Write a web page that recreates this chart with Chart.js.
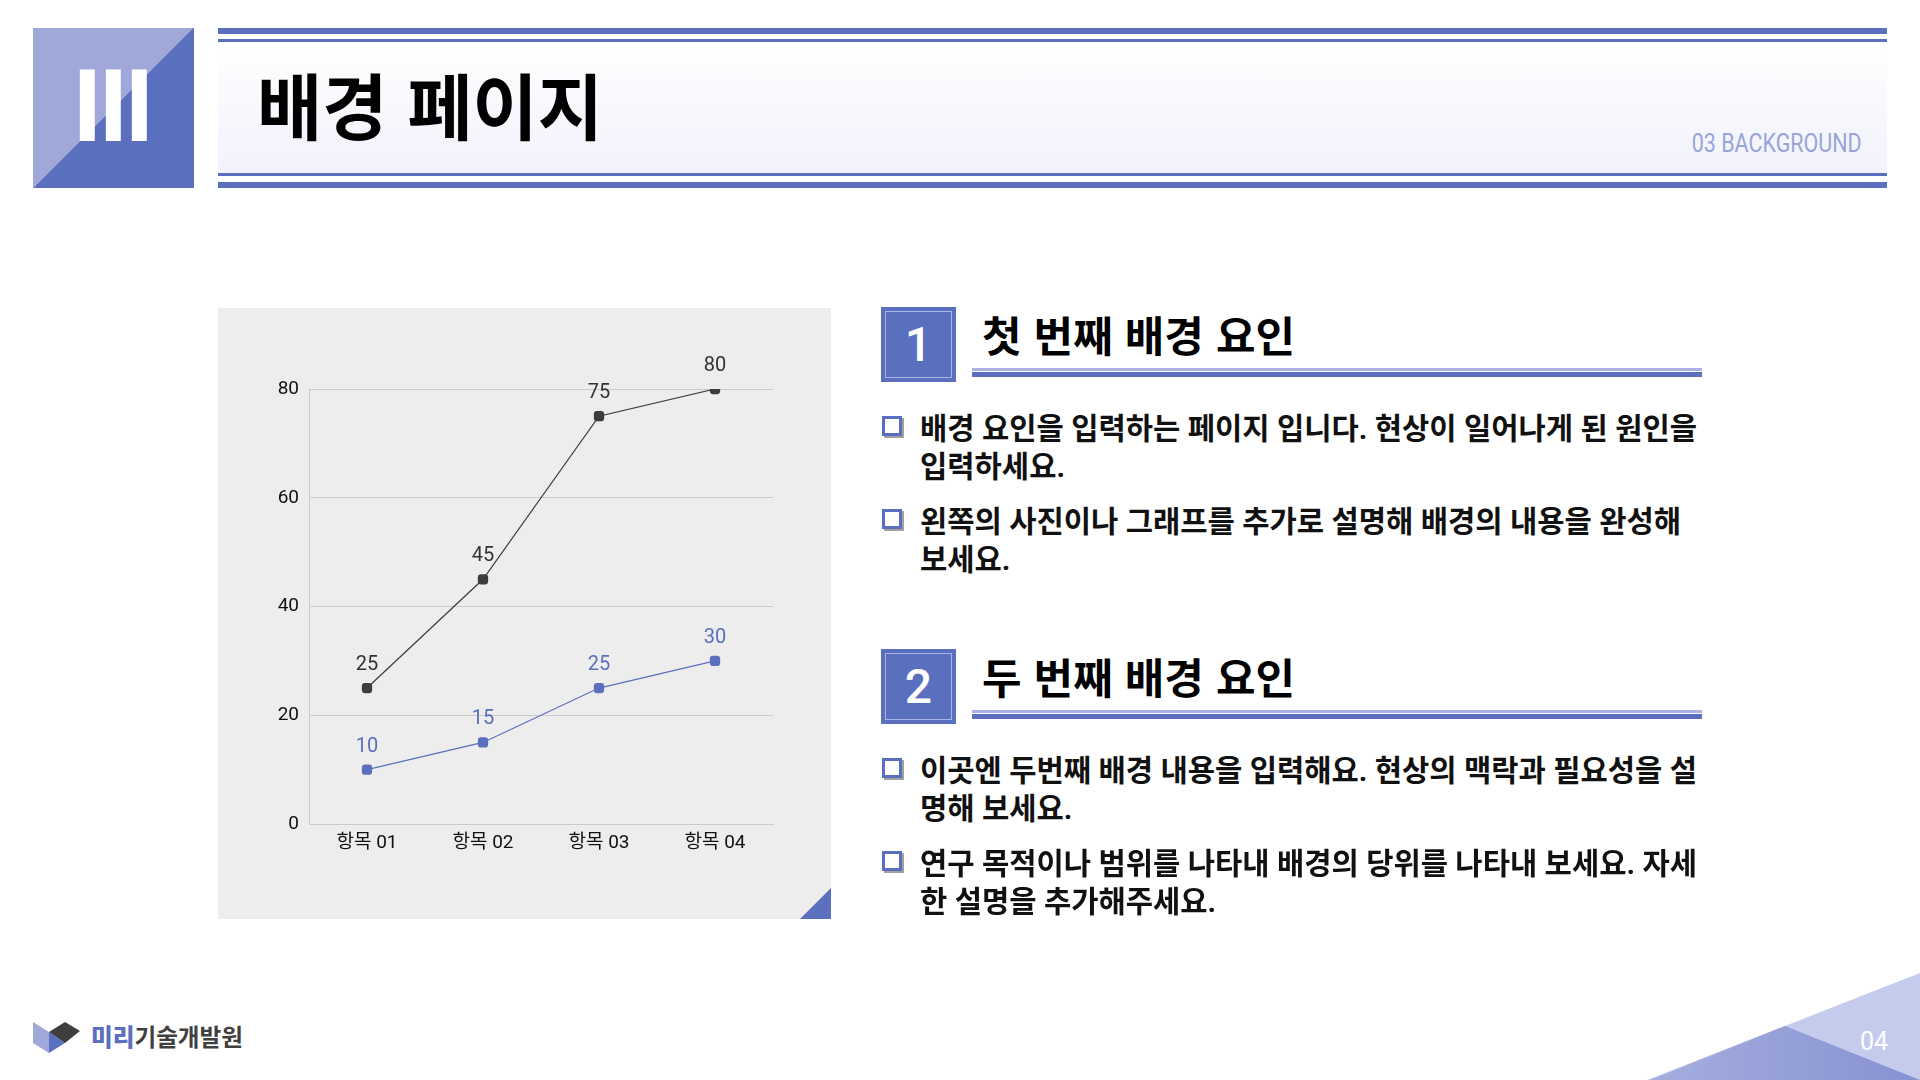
<!DOCTYPE html>
<html lang="ko">
<head>
<meta charset="utf-8">
<title>배경 페이지</title>
<script src="https://cdn.jsdelivr.net/npm/chart.js"></script>
<style>
  html, body { margin: 0; padding: 0; }
  body { width: 1920px; height: 1080px; position: relative; overflow: hidden; background: #fff;
         font-family: 'Noto Sans CJK KR', 'Noto Sans', sans-serif; color: #111; }
  .abs { position: absolute; }
  .nowrap { white-space: nowrap; transform-origin: 0 50%; }

  #numBox { left: 33px; top: 28px; width: 161px; height: 160px;
            background: linear-gradient(to bottom right, #9fa8d9 50%, #5b6fbf 50%); }
  #roman { left: 73px; top: 51px; font: bold 103px/110px 'Liberation Sans', Arial, sans-serif;
           color: #fff; letter-spacing: -2.6px; }

  .band { left: 218px; width: 1669px; background: #5b6fbf; }
  #bandFill { left: 218px; width: 1669px; top: 42px; height: 131px;
              background: linear-gradient(#ffffff, #f1f2fc); }
  #title { left: 257px; top: 63px; font-size: 72px; line-height: 80px; font-weight: 700; color: #000; }
  #sub { right: 58px; top: 129px; font: 25px/30px Roboto, sans-serif; color: #9aa4d8;
         white-space: nowrap; transform-origin: 100% 50%; }

  #panel { left: 218px; top: 308px; width: 613px; height: 611px; background: #ededed; }
  #panel .corner { position: absolute; right: 0; bottom: 0; width: 31px; height: 31px; background: #5b6fbf;
                   clip-path: polygon(100% 0, 100% 100%, 0 100%); }
  #chartWrap { position: absolute; left: 0; top: 0; width: 613px; height: 611px; }

  .secNum { width: 75px; height: 75px; background: #5b6fbf; left: 881px; color: #fff;
            font: 500 48px/75px Roboto, sans-serif; text-align: center; box-sizing: border-box; }
  .secNum::after { content: ''; position: absolute; left: 4px; top: 4px; right: 4px; bottom: 4px;
                   border: 1px solid #aab3e6; }
  .secHead { left: 982px; font-size: 42px; line-height: 50px; font-weight: 700; color: #000; }
  .rule1 { left: 972px; width: 730px; height: 3px; background: #aab1e4; }
  .rule2 { left: 972px; width: 730px; height: 5px; background: #5b6fbf; }
  .chk { left: 882px; width: 20px; height: 20px; box-sizing: border-box; border: 3px solid #5b6fbf;
         background: #fff; box-shadow: 2px 2px 0 #a0a0a0; }
  /* Roboto first keeps the line boxes inside the tight 38px leading; hangul falls back to Noto CJK */
  .para { left: 920px; font-family: Roboto, 'Noto Sans CJK KR', sans-serif;
          font-size: 30px; line-height: 38px; font-weight: 700; color: #111; }

  #logoText { left: 91px; top: 1021px; font-size: 24px; line-height: 30px; font-weight: 700; color: #404040; }
  #logoText b { color: #5b6fbf; }
  #pageNo { left: 1860px; top: 1027px; font: 25px/30px Roboto, sans-serif; color: #fff; }
</style>
</head>
<body>

<div id="numBox" class="abs"></div>
<div id="roman" class="abs">III</div>

<div class="abs band" style="top:28px;height:6px"></div>
<div class="abs band" style="top:39px;height:3px"></div>
<div id="bandFill" class="abs"></div>
<div class="abs band" style="top:173px;height:3px"></div>
<div class="abs band" style="top:182px;height:6px"></div>
<div id="title" class="abs nowrap">배경 페이지</div>
<div id="sub" class="abs">03 BACKGROUND</div>

<div id="panel" class="abs">
  <div id="chartWrap"><canvas id="lineChart" width="613" height="611"></canvas></div>
  <div class="corner"></div>
</div>

<div class="abs secNum" style="top:307px">1</div>
<div class="abs secHead nowrap" style="top:309px">첫 번째 배경 요인</div>
<div class="abs rule1" style="top:368px"></div>
<div class="abs rule2" style="top:372px"></div>
<div class="abs chk" style="top:416px"></div>
<div class="abs para nowrap" style="top:410px">배경 요인을 입력하는 페이지 입니다. 현상이 일어나게 된 원인을<br>입력하세요.</div>
<div class="abs chk" style="top:509px"></div>
<div class="abs para nowrap" style="top:503px">왼쪽의 사진이나 그래프를 추가로 설명해 배경의 내용을 완성해<br>보세요.</div>

<div class="abs secNum" style="top:649px">2</div>
<div class="abs secHead nowrap" style="top:651px">두 번째 배경 요인</div>
<div class="abs rule1" style="top:710px"></div>
<div class="abs rule2" style="top:714px"></div>
<div class="abs chk" style="top:758px"></div>
<div class="abs para nowrap" style="top:752px">이곳엔 두번째 배경 내용을 입력해요. 현상의 맥락과 필요성을 설<br>명해 보세요.</div>
<div class="abs chk" style="top:851px"></div>
<div class="abs para nowrap" style="top:845px">연구 목적이나 범위를 나타내 배경의 당위를 나타내 보세요. 자세<br>한 설명을 추가해주세요.</div>

<svg class="abs" style="left:0;top:1000px" width="100" height="70" viewBox="0 1000 100 70">
  <polygon points="33,1022 49,1032 49,1053 33,1043" fill="#9fa8d9"/>
  <polygon points="49,1032 65,1043 49,1053" fill="#5b6fbf"/>
  <polygon points="49,1032 65,1022 80,1031 65,1043" fill="#3d3d3d"/>
</svg>
<div id="logoText" class="abs nowrap"><b>미리</b>기술개발원</div>

<svg class="abs" style="left:1600px;top:940px" width="320" height="140" viewBox="1600 940 320 140">
  <defs>
    <linearGradient id="dk" x1="0" x2="1" y1="0" y2="0">
      <stop offset="0" stop-color="#a5aede"/>
      <stop offset="1" stop-color="#8692d2"/>
    </linearGradient>
  </defs>
  <polygon points="1647,1080 1920,973 1920,1080" fill="#c5cbed"/>
  <polygon points="1650,1080 1785,1026 1920,1080" fill="url(#dk)"/>
</svg>
<div id="pageNo" class="abs">04</div>

<script>
const categories = ['항목 01', '항목 02', '항목 03', '항목 04'];
const seriesDark = [25, 45, 75, 80];
const seriesBlue = [10, 15, 25, 30];
const yMin = 0, yMax = 80, yStep = 20;

const darkColor = '#3c3c3c';
const blueColor = '#5b6fbf';

// squeeze text blocks to the widths they have on the slide
function fitWidth(el, target) {
  el.style.transform = 'none';
  const w = el.getBoundingClientRect().width;
  const f = target / w;
  el.style.transform = 'scaleX(' + f + ')';
  return f;
}

function fitTexts() {
  fitWidth(document.getElementById('title'), 346);
  fitWidth(document.getElementById('sub'), 170);
  const heads = document.querySelectorAll('.secHead');
  heads[1].style.transform = 'none';
  const fh = fitWidth(heads[0], 313);
  heads[1].style.transform = 'scaleX(' + fh + ')';
  const paras = document.querySelectorAll('.para');
  // first line of the first paragraph sets the squeeze for every paragraph
  const probe = document.createElement('span');
  probe.className = 'para';
  probe.style.position = 'absolute';
  probe.style.visibility = 'hidden';
  probe.style.whiteSpace = 'nowrap';
  probe.textContent = '배경 요인을 입력하는 페이지 입니다. 현상이 일어나게 된 원인을';
  document.body.appendChild(probe);
  const fp = 777 / probe.getBoundingClientRect().width;
  probe.remove();
  paras.forEach(p => { p.style.transform = 'scaleX(' + fp + ')'; });
  fitWidth(document.getElementById('logoText'), 152);
}

// value labels above every point
const valueLabels = {
  id: 'valueLabels',
  afterDatasetsDraw(chart) {
    const ctx = chart.ctx;
    ctx.save();
    ctx.font = "20px Roboto, 'Noto Sans CJK KR', sans-serif";
    ctx.textAlign = 'center';
    ctx.textBaseline = 'middle';
    chart.data.datasets.forEach((ds, i) => {
      const meta = chart.getDatasetMeta(i);
      ctx.fillStyle = ds.labelColor;
      meta.data.forEach((pt, j) => {
        ctx.fillText(String(ds.data[j]), pt.x, pt.y - 23);
      });
    });
    ctx.restore();
  }
};

function createChart() {
  Chart.defaults.font.family = "Roboto, 'Noto Sans CJK KR', sans-serif";
  const ctx = document.getElementById('lineChart').getContext('2d');
  new Chart(ctx, {
    type: 'line',
    data: {
      labels: categories,
      datasets: [
        {
          label: '계열 1',
          data: seriesDark,
          borderColor: darkColor,
          backgroundColor: darkColor,
          labelColor: '#333333',
          borderWidth: 1.2,
          pointStyle: 'rectRounded',
          pointRadius: 6,
          pointBorderWidth: 0,
          tension: 0
        },
        {
          label: '계열 2',
          data: seriesBlue,
          borderColor: blueColor,
          backgroundColor: blueColor,
          labelColor: blueColor,
          borderWidth: 1.2,
          pointStyle: 'rectRounded',
          pointRadius: 6,
          pointBorderWidth: 0,
          tension: 0
        }
      ]
    },
    options: {
      responsive: false,
      animation: false,
      layout: { padding: { left: 31, right: 58, top: 81, bottom: 55 } },
      plugins: { legend: { display: false }, tooltip: { enabled: false } },
      scales: {
        x: {
          offset: true,
          grid: { display: false, drawTicks: false },
          border: { display: true, color: '#cbcbcb', width: 1 },
          ticks: { color: '#111', font: { size: 19 }, padding: 8 },
          afterFit(scale) { scale.height = 40; }
        },
        y: {
          min: yMin,
          max: yMax,
          ticks: { stepSize: yStep, color: '#111', font: { size: 19 }, padding: 10 },
          grid: { color: '#cbcbcb', lineWidth: 1, drawTicks: false },
          border: { display: true, color: '#cbcbcb', width: 1 },
          afterFit(scale) { scale.width = 60; }
        }
      }
    },
    plugins: [valueLabels]
  });
}

if (document.readyState === 'loading') {
  document.addEventListener('DOMContentLoaded', () => { fitTexts(); createChart(); });
} else {
  fitTexts();
  createChart();
}
document.fonts && document.fonts.ready.then(fitTexts);
</script>
</body>
</html>
